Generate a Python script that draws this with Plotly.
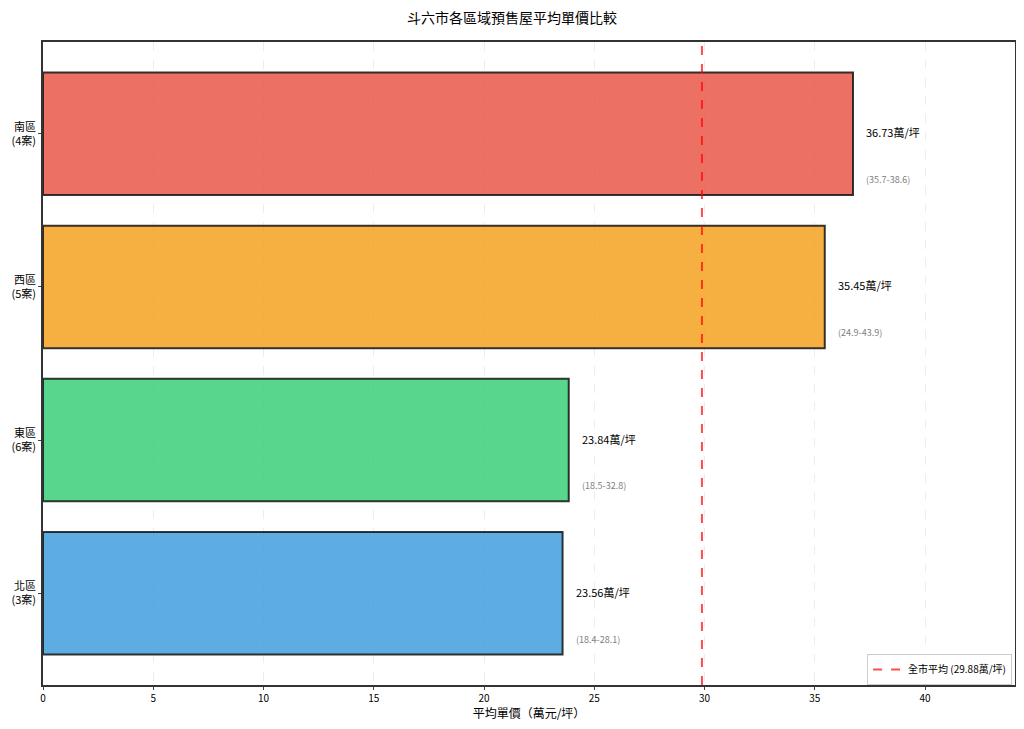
import plotly.graph_objects as go

# 各區域資料（由下而上）
districts = ['北區', '東區', '西區', '南區']
case_counts = [3, 6, 5, 4]
avg_prices = [23.56, 23.84, 35.45, 36.73]
price_ranges = ['(18.4-28.1)', '(18.5-32.8)', '(24.9-43.9)', '(35.7-38.6)']
city_avg = 29.88
colors = ['rgba(52,152,219,0.8)', 'rgba(46,204,113,0.8)',
          'rgba(243,156,18,0.8)', 'rgba(231,76,60,0.8)']

FONT = 'Noto Sans CJK TC'

tick_labels = [f"{d}<br>({n}案)" for d, n in zip(districts, case_counts)]
y_pos = list(range(len(districts)))

fig = go.Figure()

fig.add_trace(go.Bar(
    x=avg_prices,
    y=y_pos,
    orientation='h',
    width=0.8,
    marker=dict(color=colors, line=dict(color='rgba(20,20,20,0.85)', width=2)),
    showlegend=False,
    hoverinfo='x',
))

# 全市平均線（圖例用）
fig.add_trace(go.Scatter(
    x=[city_avg, city_avg],
    y=[-0.6, 3.6],
    mode='lines',
    line=dict(color='rgba(255,0,0,0.7)', width=2, dash='dash'),
    name=f'全市平均 ({city_avg:.2f}萬/坪)',
))

for i, (v, r) in enumerate(zip(avg_prices, price_ranges)):
    fig.add_annotation(x=v + 0.5, y=i + 0.01, text=f"{v:.2f}萬/坪",
                       showarrow=False, xanchor='left', yanchor='middle',
                       font=dict(size=11, color='black', family=FONT))
    fig.add_annotation(x=v + 0.5, y=i - 0.3, text=r,
                       showarrow=False, xanchor='left', yanchor='middle',
                       font=dict(size=9, color='gray', family=FONT))

fig.update_layout(
    autosize=True,
    margin=dict(l=35, r=1, t=34, b=36),
    paper_bgcolor='white', plot_bgcolor='white',
    font=dict(family=FONT, size=10, color='black'),
    title=dict(text='斗六市各區域預售屋平均單價比較', x=0.5, xanchor='center',
               y=1, yanchor='top', pad=dict(t=5),
               font=dict(size=14, color='black')),
    xaxis=dict(range=[0, max(avg_prices) * 1.2], dtick=5, tick0=0,
               showgrid=True, gridcolor='rgba(215,215,215,0.45)', griddash='dash',
               gridwidth=0.8,
               ticks='outside', ticklen=3, zeroline=False, automargin=False,
               showline=True, linecolor='#333', linewidth=1.5, mirror=True,
               title=dict(text='平均單價（萬元/坪）', font=dict(size=12), standoff=6),
               tickfont=dict(size=10)),
    yaxis=dict(range=[-0.6, 3.6], tickvals=y_pos, ticktext=tick_labels,
               showgrid=False, zeroline=False, ticks='outside', ticklen=3,
               automargin=False,
               showline=True, linecolor='#333', linewidth=1.5, mirror=True,
               tickfont=dict(size=11)),
    legend=dict(x=0.997, y=0.0, xanchor='right', yanchor='bottom',
                bgcolor='rgba(255,255,255,0.9)', bordercolor='#ccc', borderwidth=1,
                font=dict(size=10), tracegroupgap=0),
    bargap=0.2,
)

fig.write_html("out.html")
